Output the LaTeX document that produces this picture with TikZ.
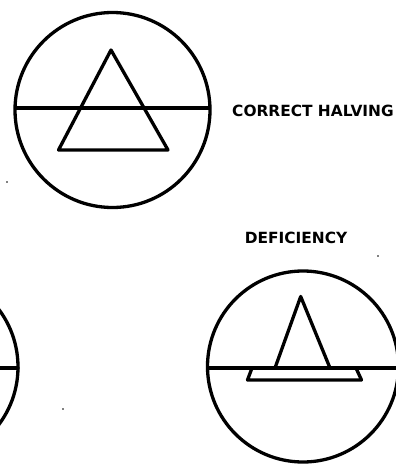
\documentclass[tikz,border=0pt]{standalone}
\usepackage{fontspec}
\setmainfont{DejaVu Sans}
\begin{document}
\begin{tikzpicture}[x=1pt,y=-1pt,
  ink/.style={line width=3.3pt,line join=round,line cap=round},
  lbl/.style={font=\bfseries\fontsize{15.4}{15.4}\selectfont,inner sep=0pt},
  speck/.style={fill=black}]
\useasboundingbox (0,0) rectangle (396,466);
% top circle: correct halving
\draw[ink] (112.5,110) circle[radius=97.5];
\draw[ink] (15.5,108) -- (209.5,108);
\draw[ink] (111,50) -- (168,150) -- (58.5,150) -- cycle;
\node[lbl,anchor=west] (correct) at (232,111) {CORRECT HALVING};
% deficiency label
\node[lbl] (defic) at (296,237.5) {DEFICIENCY};
% bottom right circle
\draw[ink] (303,366.5) circle[radius=95.5];
\draw[ink] (208,368) -- (396,368);
\draw[ink] (275,368) -- (300.7,296.5) -- (330,368);
\draw[ink] (252,368) -- (247.5,380) -- (361.5,380) -- (356,368);
% bottom left circle (cut off)
\draw[ink] (-78,367) circle[radius=96];
\draw[ink] (0,368) -- (18,368);
% specks
\fill[speck] (7,182) circle[radius=0.8];
\fill[speck] (378,256) circle[radius=0.8];
\fill[speck] (63,409) circle[radius=0.8];
\end{tikzpicture}
\end{document}
